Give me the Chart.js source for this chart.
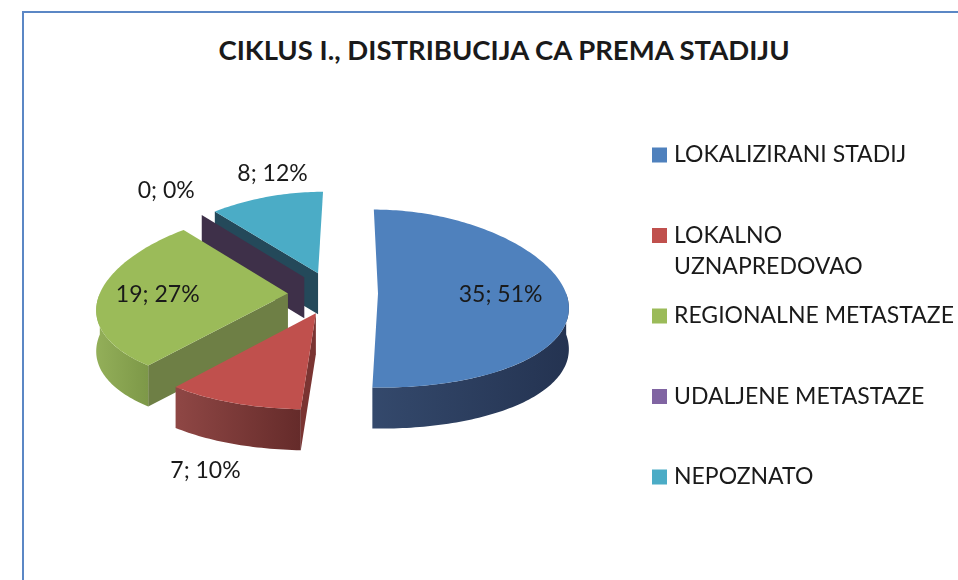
<!DOCTYPE html>
<html>
<head>
<meta charset="utf-8">
<title>Ciklus I.</title>
<script src="https://cdn.jsdelivr.net/npm/chart.js@4.4.1/dist/chart.umd.min.js"></script>
<style>
  html, body { margin: 0; padding: 0; background: #fff; }
  #wrap { position: relative; width: 958px; height: 580px; overflow: hidden; }
  #frame { position: absolute; left: 22px; top: 11px; width: 1000px; height: 700px;
           border-left: 2px solid #5b87c5; border-top: 2px solid #5b87c5; }
  #title { position: absolute; left: 0; top: 33px; width: 1008px; text-align: center;
           font: bold 27.5px Lato, sans-serif; color: #1a1a1a; }
  canvas { position: absolute; left: 0; top: 0; }
</style>
</head>
<body>
<div id="wrap">
  <div id="frame"></div>
  <div id="title">CIKLUS I., DISTRIBUCIJA CA PREMA STADIJU</div>
  <canvas id="pie" width="958" height="580"></canvas>
</div>
<script>
// values
const stages = ['LOKALIZIRANI STADIJ', ['LOKALNO', 'UZNAPREDOVAO'], 'REGIONALNE METASTAZE', 'UDALJENE METASTAZE', 'NEPOZNATO'];
const counts = [35, 7, 19, 0, 8];
const percents = [51, 10, 27, 0, 12];

const faceColors = ['#4f81bd', '#c0504d', '#9bbb59', '#8064a2', '#4bacc6'];
const sideColors = [['#34496c', '#243351'], ['#8f4745', '#652b2a'], ['#93af59', '#7d9848'], ['#3e3049', '#3e3049'], ['#24495a', '#24495a']];
const wallColors = ['#2c3d5c', '#7a3432', '#6e7f45', '#3e3049', '#24495a'];
// where each data label sits, as a fraction of the radius from the slice tip
const labelReach = [0.65, 1.285, 0.69, 1.43, 1.2];
const labelNudge = [[0, 0], [0, 0], [0, 0], [0, 0], [13, -9]];

const tilt = 0.473;   // vertical squash of the pie
const depth = 41;     // thickness in px
const persp = 0.15;   // back narrower than front
const perspY = 0.057;
const vanishX = 350;

function proj(cx, cy, R, u, v) {
  const s = 1 + persp * v / R;
  return [vanishX + (cx + u - vanishX) * s, cy + v * tilt * (1 + perspY * v / R)];
}

function sliceGeom(arc) {
  const p = arc.getProps(['x', 'y', 'startAngle', 'endAngle', 'outerRadius'], true);
  const off = arc.options.offset || 0;
  const mid = (p.startAngle + p.endAngle) / 2;
  return { cx: p.x, cy: p.y, R: p.outerRadius, a0: p.startAngle, a1: p.endAngle, mid,
           au: Math.cos(mid) * off, av: Math.sin(mid) * off };
}

function arcPoints(g, t0, t1, dy) {
  const pts = [];
  const n = Math.max(2, Math.ceil(Math.abs(t1 - t0) / 0.02));
  for (let k = 0; k <= n; k++) {
    const t = t0 + (t1 - t0) * k / n;
    const q = proj(g.cx, g.cy, g.R, g.au + g.R * Math.cos(t), g.av + g.R * Math.sin(t));
    pts.push([q[0], q[1] + dy]);
  }
  return pts;
}

function wall(ctx, g, t, color) {
  const a = proj(g.cx, g.cy, g.R, g.au, g.av);
  const b = proj(g.cx, g.cy, g.R, g.au + g.R * Math.cos(t), g.av + g.R * Math.sin(t));
  ctx.beginPath();
  ctx.moveTo(a[0], a[1]);
  ctx.lineTo(b[0], b[1]);
  ctx.lineTo(b[0], b[1] + depth);
  ctx.lineTo(a[0], a[1] + depth);
  ctx.closePath();
  ctx.fillStyle = color;
  ctx.fill();
}

const pie3d = {
  id: 'pie3d',
  beforeDatasetsDraw(chart) {
    const ctx = chart.ctx;
    const arcs = chart.getDatasetMeta(0).data;
    const order = arcs.map((arc, i) => ({ i, g: sliceGeom(arc) }))
      .sort((a, b) => a.g.av - b.g.av);
    ctx.save();
    order.forEach(({ i, g }) => {
      // radial walls facing the viewer
      if (Math.cos(g.a0) < -0.001) wall(ctx, g, g.a0, wallColors[i]);
      if (g.a1 > g.a0 && Math.cos(g.a1) > 0.001) wall(ctx, g, g.a1, wallColors[i]);
      // curved outer side (front half only)
      const t0 = Math.max(g.a0, 0), t1 = Math.min(g.a1, Math.PI);
      if (t1 > t0) {
        const top = arcPoints(g, t0, t1, 0);
        const bot = arcPoints(g, t1, t0, depth);
        const xs = top.map(p => p[0]);
        const grad = ctx.createLinearGradient(Math.min(...xs), 0, Math.max(...xs), 0);
        grad.addColorStop(0, sideColors[i][0]);
        grad.addColorStop(1, sideColors[i][1]);
        ctx.beginPath();
        top.concat(bot).forEach((p, k) => k ? ctx.lineTo(p[0], p[1]) : ctx.moveTo(p[0], p[1]));
        ctx.closePath();
        ctx.fillStyle = grad;
        ctx.fill();
      }
      // top face
      if (g.a1 > g.a0) {
        const tip = proj(g.cx, g.cy, g.R, g.au, g.av);
        ctx.beginPath();
        ctx.moveTo(tip[0], tip[1]);
        arcPoints(g, g.a0, g.a1, 0).forEach(p => ctx.lineTo(p[0], p[1]));
        ctx.closePath();
        ctx.fillStyle = faceColors[i];
        ctx.fill();
      }
    });
    ctx.restore();
    return false; // faces are drawn above with the 3D projection
  },
  afterDraw(chart) {
    const ctx = chart.ctx;
    const arcs = chart.getDatasetMeta(0).data;
    ctx.save();
    ctx.font = '23px Lato, sans-serif';
    ctx.fillStyle = '#1a1a1a';
    // data labels
    ctx.textAlign = 'center';
    ctx.textBaseline = 'middle';
    arcs.forEach((arc, i) => {
      const g = sliceGeom(arc);
      const r = g.R * labelReach[i];
      const q = proj(g.cx, g.cy, g.R, g.au + r * Math.cos(g.mid), g.av + r * Math.sin(g.mid));
      const below = labelReach[i] > 1 && Math.sin(g.mid) > 0 ? depth : 0;
      ctx.fillText(counts[i] + '; ' + percents[i] + '%', q[0] + labelNudge[i][0], q[1] + below + labelNudge[i][1]);
    });
    // legend on the right
    ctx.textAlign = 'left';
    stages.forEach((name, i) => {
      const y = 155 + i * 80.5;
      ctx.fillStyle = faceColors[i];
      ctx.fillRect(652, y - 7.5, 15, 15);
      ctx.fillStyle = '#1a1a1a';
      [].concat(name).forEach((line, k) => ctx.fillText(line, 674, y + k * 31));
    });
    ctx.restore();
  }
};

function draw() {
  new Chart(document.getElementById('pie'), {
    type: 'pie',
    data: {
      labels: stages,
      datasets: [{
        data: counts,
        backgroundColor: faceColors,
        borderWidth: 0,
        offset: 45
      }]
    },
    options: {
      responsive: false,
      animation: false,
      radius: 188,
      layout: { padding: { left: 100, right: 392, top: 100, bottom: 94 } },
      plugins: { legend: { display: false }, tooltip: { enabled: false } }
    },
    plugins: [pie3d]
  });
}

if (document.fonts && document.fonts.load) {
  Promise.all([document.fonts.load('23px Lato'), document.fonts.load('bold 27.5px Lato')]).then(draw, draw);
} else {
  draw();
}
</script>
</body>
</html>
